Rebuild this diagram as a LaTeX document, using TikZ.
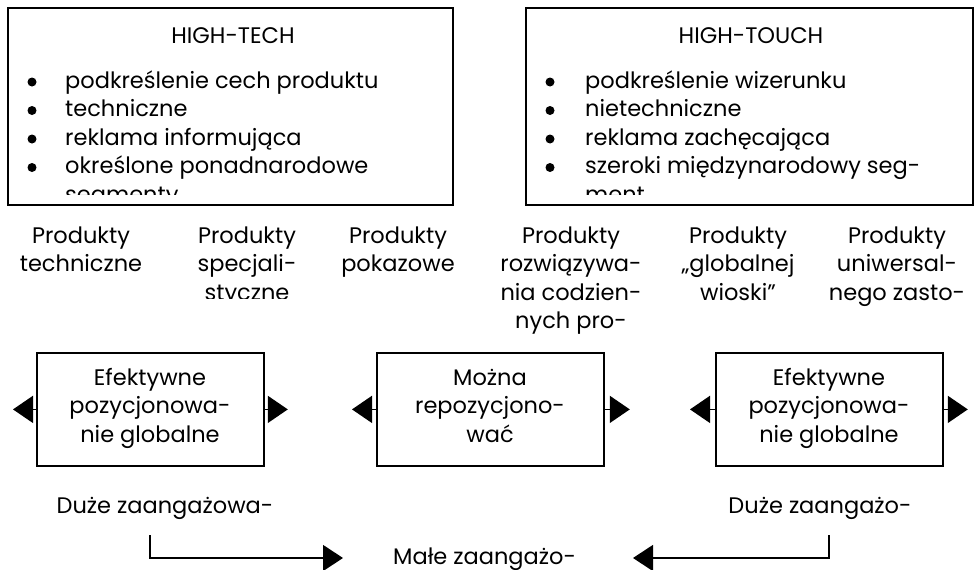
\documentclass[tikz,border=0pt]{standalone}
\usepackage{fontspec}
\setmainfont{Poppins}
\usetikzlibrary{arrows.meta}
\begin{document}
\begin{tikzpicture}[x=1pt,y=-1pt,
  txt/.style={font=\fontsize{22.5}{28.5}\selectfont, inner sep=0pt, anchor=base},
  txtl/.style={txt, anchor=base west},
  box/.style={draw, line width=1.8pt, inner sep=0pt, anchor=north west},
  bul/.style={fill, circle, inner sep=0pt, minimum size=9pt},
  tri/.style={-{Triangle[length=20pt,width=27pt]}, line width=1.5pt},
  conn/.style={-{Triangle[length=20pt,width=26pt]}, line width=1.3pt}
]
\useasboundingbox (0,0) rectangle (978,570);

% ---------- top boxes ----------
\node[box, minimum width=445pt, minimum height=197pt] (ht) at (7,7) {};
\node[box, minimum width=447pt, minimum height=197pt] (hto) at (525,7) {};
\node[txt] (htT) at (233,43) {HIGH-TECH};
\node[txt] (htoT) at (751,43) {HIGH-TOUCH};
\begin{scope}
  \clip (7,7) rectangle (452,194);
  \foreach \t [count=\i] in {podkreślenie cech produktu, techniczne, reklama informująca, określone ponadnarodowe, segmenty}
    \node[txtl] (htL\i) at (65,{88+28.5*(\i-1)}) {\t};
\end{scope}
\foreach \i in {1,...,4} \node[bul] (htB\i) at (32,{82+28.5*(\i-1)}) {};
\begin{scope}
  \clip (525,7) rectangle (972,194);
  \foreach \t [count=\i] in {podkreślenie wizerunku, nietechniczne, reklama zachęcająca, szeroki międzynarodowy seg-, ment}
    \node[txtl] (htoL\i) at (585,{88+28.5*(\i-1)}) {\t};
\end{scope}
\foreach \i in {1,...,4} \node[bul] (htoB\i) at (550,{82+28.5*(\i-1)}) {};

% ---------- product row ----------
\foreach \t [count=\i] in {Produkty, techniczne}
  \node[txt] (pA\i) at (81,{243+28.5*(\i-1)}) {\t};
\begin{scope}
  \clip (150,220) rectangle (350,298);
  \foreach \t [count=\i] in {Produkty, specjali-, styczne}
    \node[txt] (pB\i) at (247,{243+28.5*(\i-1)}) {\t};
\end{scope}
\foreach \t [count=\i] in {Produkty, pokazowe}
  \node[txt] (pC\i) at (398,{243+28.5*(\i-1)}) {\t};
\foreach \t [count=\i] in {Produkty, rozwiązywa-, nia codzien-, nych pro-}
  \node[txt] (pD\i) at (571,{243+28.5*(\i-1)}) {\t};
\foreach \t [count=\i] in {Produkty, „globalnej, wioski”}
  \node[txt] (pE\i) at (738,{243+28.5*(\i-1)}) {\t};
\foreach \t [count=\i] in {Produkty, uniwersal-, nego zasto-}
  \node[txt] (pF\i) at (897,{243+28.5*(\i-1)}) {\t};

% ---------- bottom boxes ----------
\node[box, minimum width=227pt, minimum height=113pt] (b1) at (36,352) {};
\node[box, minimum width=227pt, minimum height=113pt] (b2) at (376,352) {};
\node[box, minimum width=227pt, minimum height=113pt] (b3) at (715,352) {};
\foreach \t [count=\i] in {Efektywne, pozycjonowa-, nie globalne}
  \node[txt] (b1t\i) at (150,{385+28.5*(\i-1)}) {\t};
\foreach \t [count=\i] in {Można, repozycjono-, wać}
  \node[txt] (b2t\i) at (490,{385+28.5*(\i-1)}) {\t};
\foreach \t [count=\i] in {Efektywne, pozycjonowa-, nie globalne}
  \node[txt] (b3t\i) at (829,{385+28.5*(\i-1)}) {\t};

\coordinate (b1l) at ([xshift=-23pt]b1.west);
\coordinate (b1r) at ([xshift=23pt]b1.east);
\coordinate (b2l) at ([xshift=-24pt]b2.west);
\coordinate (b2r) at ([xshift=25pt]b2.east);
\coordinate (b3l) at ([xshift=-25pt]b3.west);
\coordinate (b3r) at ([xshift=24pt]b3.east);
\draw[tri] (b1.west) -- (b1l);
\draw[tri] (b1.east) -- (b1r);
\draw[tri] (b2.west) -- (b2l);
\draw[tri] (b2.east) -- (b2r);
\draw[tri] (b3.west) -- (b3l);
\draw[tri] (b3.east) -- (b3r);

% ---------- involvement ----------
\node[txt] (dL) at (165,513) {Duże zaangażowa-};
\node[txt] (dR) at (820,513) {Duże zaangażo-};
\node[txt, anchor=base west] (m) at (393,564) {Małe zaangażo-};
\coordinate (cL) at (150,535);
\coordinate (cR) at (829,535);
\coordinate (tL) at (343,558);
\coordinate (tR) at (633,558);
\draw[conn] (cL) |- (tL);
\draw[conn] (cR) |- (tR);
\end{tikzpicture}
\end{document}
